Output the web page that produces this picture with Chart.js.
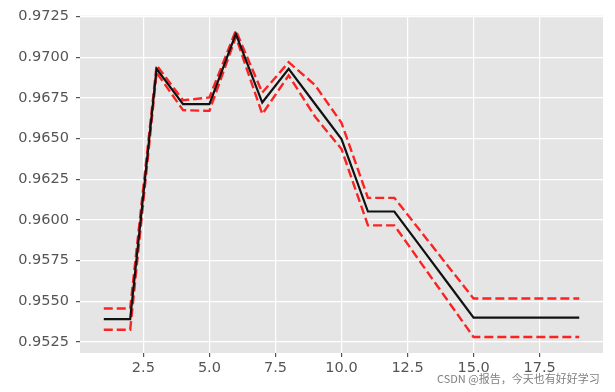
<!DOCTYPE html>
<html>
<head>
<meta charset="utf-8">
<script src="https://cdn.jsdelivr.net/npm/chart.js@4/dist/chart.umd.min.js"></script>
<style>
  html, body { margin: 0; padding: 0; background: #ffffff; }
  #wrap { position: relative; width: 615px; height: 392px; }
  #wm { position: absolute; left: 437px; top: 370px; font-family: "Noto Sans CJK SC", "DejaVu Sans", sans-serif; font-size: 11px; color: #808080; text-shadow: 0 0 2px #fff, 0 0 2px #fff; white-space: nowrap; }
</style>
</head>
<body>
<div id="wrap">
  <canvas id="c" width="615" height="392"></canvas>
  <div id="wm">CSDN @报告，今天也有好好学习</div>
</div>
<script>
const xValues   = [1, 2, 3, 4, 5, 6, 7, 8, 9, 10, 11, 12, 13, 14, 15, 16, 17, 18, 19];
const meanScore = [0.95389, 0.95389, 0.96928, 0.96711, 0.96711, 0.97143, 0.96721, 0.96928, 0.96712, 0.96496, 0.96051, 0.96051, 0.95834, 0.95616, 0.95399, 0.95399, 0.95399, 0.95399, 0.95399];
const upperBand = [0.95455, 0.95455, 0.96950, 0.96735, 0.96752, 0.97164, 0.96782, 0.96969, 0.96828, 0.96596, 0.96135, 0.96135, 0.95929, 0.95722, 0.95516, 0.95516, 0.95516, 0.95516, 0.95516];
const lowerBand = [0.95324, 0.95324, 0.96905, 0.96674, 0.96670, 0.97125, 0.96650, 0.96888, 0.96634, 0.96435, 0.95966, 0.95966, 0.95737, 0.95508, 0.95279, 0.95279, 0.95279, 0.95279, 0.95279];
const xTicks = [2.5, 5.0, 7.5, 10.0, 12.5, 15.0, 17.5];
const yTicks = [0.9525, 0.9550, 0.9575, 0.9600, 0.9625, 0.9650, 0.9675, 0.9700, 0.9725];

const pts = arr => xValues.map((x, i) => ({ x: x, y: arr[i] }));

const bgPlugin = {
  id: 'bg',
  beforeDraw(chart) {
    const { ctx, chartArea: a } = chart;
    ctx.save();
    ctx.fillStyle = '#E5E5E5';
    ctx.fillRect(a.left, a.top, a.right - a.left, a.bottom - a.top);
    ctx.restore();
  }
};

const tickFont = { family: 'DejaVu Sans', size: 14.5 };

new Chart(document.getElementById('c'), {
  type: 'line',
  data: {
    datasets: [
      { data: pts(upperBand), borderColor: 'rgba(255,0,0,0.85)', borderWidth: 2.4, borderDash: [9, 4], pointRadius: 0, fill: false, tension: 0, order: 2 },
      { data: pts(lowerBand), borderColor: 'rgba(255,0,0,0.85)', borderWidth: 2.4, borderDash: [9, 4], pointRadius: 0, fill: false, tension: 0, order: 2 },
      { data: pts(meanScore), borderColor: '#111111', borderWidth: 2.2, pointRadius: 0, fill: false, tension: 0, order: 1 }
    ]
  },
  options: {
    responsive: false,
    animation: false,
    layout: { padding: { top: 14, right: 12, left: 0, bottom: 0 } },
    plugins: { legend: { display: false }, tooltip: { enabled: false } },
    scales: {
      x: {
        type: 'linear',
        min: 0.1, max: 19.9,
        afterBuildTicks: s => { s.ticks = xTicks.map(v => ({ value: v })); },
        afterFit: s => { s.height = 39; },
        grid: { color: '#FFFFFF', lineWidth: 1.2, tickColor: '#555555', tickLength: 4, drawTicks: true },
        border: { display: false },
        ticks: { color: '#555555', font: tickFont, padding: 3, maxRotation: 0, autoSkip: false, callback: v => Number(v).toFixed(1) }
      },
      y: {
        type: 'linear',
        min: 0.95181, max: 0.97255,
        afterBuildTicks: s => { s.ticks = yTicks.map(v => ({ value: v })); },
        afterFit: s => { s.width = 80; },
        grid: { color: '#FFFFFF', lineWidth: 1.2, tickColor: '#555555', tickLength: 4, drawTicks: true },
        border: { display: false },
        ticks: { color: '#555555', font: tickFont, padding: 7, autoSkip: false, callback: v => Number(v).toFixed(4) }
      }
    }
  },
  plugins: [bgPlugin]
});
</script>
</body>
</html>
